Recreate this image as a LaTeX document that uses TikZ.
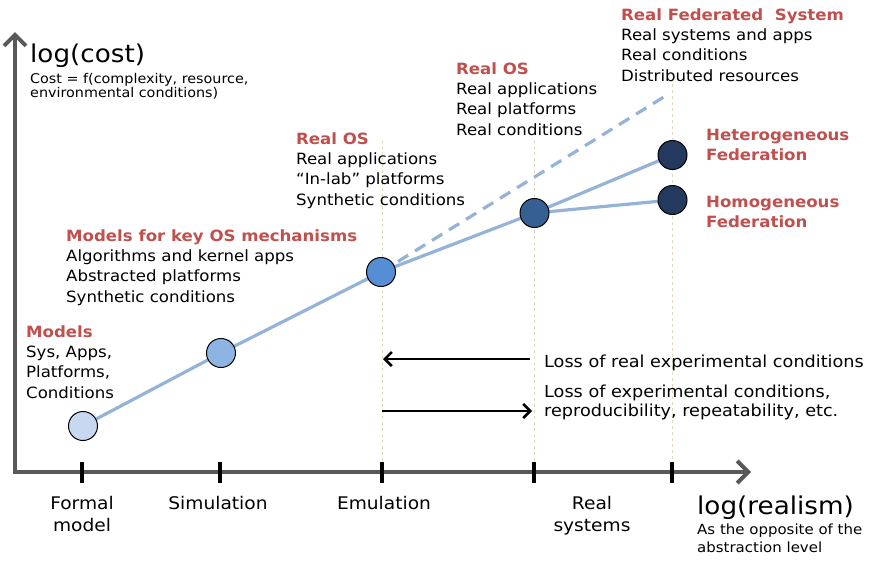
\documentclass[tikz,border=0pt]{standalone}
\usepackage{fontspec}
\setmainfont{DejaVu Sans}[FakeStretch=1.07]
\usetikzlibrary{arrows.meta}
\definecolor{headred}{HTML}{C0504D}
\definecolor{axisgray}{HTML}{595959}
\definecolor{trend}{HTML}{95B3D7}
\definecolor{guide}{HTML}{DDD9C3}
\definecolor{lvA}{HTML}{C6D9F1}
\definecolor{lvB}{HTML}{8EB4E3}
\definecolor{lvC}{HTML}{558ED5}
\definecolor{lvD}{HTML}{376092}
\definecolor{lvE}{HTML}{23395D}
\tikzset{
  axisline/.style={draw=axisgray, line width=4pt, -{Straight Barb[length=11pt,width=22pt]}},
  tickmark/.style={draw=black, line width=4.5pt},
  guideline/.style={draw=guide, line width=0.8pt, dash pattern=on 3pt off 3pt},
  trendline/.style={draw=trend, line width=3.2pt},
  trenddash/.style={trendline, dash pattern=on 12pt off 8pt},
  stage/.style={circle, draw=black, line width=1pt, minimum size=29pt, inner sep=0pt},
  lossarrow/.style={draw=black, line width=2.6pt, -{Straight Barb[length=7pt,width=14pt]}},
  block/.style={anchor=north west, align=left, inner sep=0pt, font=\fontsize{15.5}{20.3}\selectfont},
  sideblock/.style={align=left, inner sep=0pt, font=\fontsize{16.5}{19.5}\selectfont},
  axisname/.style={anchor=base west, inner sep=0pt, font=\fontsize{24.5}{28}\selectfont},
  ynotestyle/.style={anchor=north west, align=left, inner sep=0pt, font=\fontsize{13.4}{14}\selectfont},
  xnotestyle/.style={anchor=north west, align=left, inner sep=0pt, font=\fontsize{14}{18}\selectfont},
  levelname/.style={align=center, inner sep=0pt, font=\fontsize{17.4}{22}\selectfont},
}
\begin{document}
\begin{tikzpicture}[x=1pt, y=-1pt]
\useasboundingbox (0,0) rectangle (877,560);

% faint guides above the upper ticks
\coordinate (g1t) at (382,140); \coordinate (g1b) at (382,470);
\coordinate (g2t) at (534,140); \coordinate (g2b) at (534,470);
\coordinate (g3t) at (672,84);  \coordinate (g3b) at (672,470);
\draw[guideline] (g1t) -- (g1b);
\draw[guideline] (g2t) -- (g2b);
\draw[guideline] (g3t) -- (g3b);

% axes
\coordinate (origin) at (15,472);
\coordinate (ytip) at (15,32);
\coordinate (xtip) at (751,472);
\draw[axisline] (origin) -- (ytip);
\draw[axisline] ([xshift=-2pt]origin) -- (xtip);

% ticks on the realism axis
\foreach \tx/\tn in {82/formal, 220/sim, 382/emu, 534/real, 672/fed}{
  \coordinate (t\tn a) at (\tx,462);
  \coordinate (t\tn b) at (\tx,483);
  \draw[tickmark] (t\tn a) -- (t\tn b);
}

% stages
\coordinate (c1) at (83,426);
\coordinate (c2) at (221,353);
\coordinate (c3) at (381,272);
\coordinate (c4) at (534.5,213);
\coordinate (c5) at (672.5,155);
\coordinate (c6) at (672.5,200);
\coordinate (dashend) at (667,95);

\draw[trenddash] (c3) -- (dashend);
\draw[trendline] (c1) -- (c2) -- (c3) -- (c4) -- (c5);
\draw[trendline] (c4) -- (c6);

\node[stage, fill=lvA] (s1) at (c1) {};
\node[stage, fill=lvB] (s2) at (c2) {};
\node[stage, fill=lvC] (s3) at (c3) {};
\node[stage, fill=lvD] (s4) at (c4) {};
\node[stage, fill=lvE] (s5) at (c5) {};
\node[stage, fill=lvE] (s6) at (c6) {};

% loss arrows
\coordinate (la) at (530,359);
\coordinate (lb) at (383,359);
\coordinate (ra) at (382,411);
\coordinate (rb) at (532,411);
\draw[lossarrow] (la) -- (lb);
\draw[lossarrow] (ra) -- (rb);

% axis names
\node[axisname] (ylab) at (30,62) {log(cost)};
\node[ynotestyle] (ynote) at (30,72.8) {Cost = f(complexity, resource,\\environmental conditions)};
\node[axisname] (xlab) at (697,514) {log(realism)};
\node[xnotestyle] (xnote) at (697,523.4) {As the opposite of the\\abstraction level};

% level names under the axis
\node[levelname, anchor=north] (lformal) at (82,495.8) {Formal\\model};
\node[levelname, anchor=base] (lsim) at (218,509) {Simulation};
\node[levelname, anchor=base] (lemu) at (384,509) {Emulation};
\node[levelname, anchor=north] (lreal) at (592,495.8) {Real\\systems};

% descriptions
\node[block] (dmodels) at (26,325.2) {{\bfseries\color{headred}Models}\\Sys, Apps,\\Platforms,\\Conditions};
\node[block] (dkey) at (66,229.2) {{\bfseries\color{headred}Models for key OS mechanisms}\\Algorithms and kernel apps\\Abstracted platforms\\Synthetic conditions};
\node[block] (demu) at (296,132.2) {{\bfseries\color{headred}Real OS}\\Real applications\\“In-lab” platforms\\Synthetic conditions};
\node[block] (dreal) at (456,62.2) {{\bfseries\color{headred}Real OS}\\Real applications\\Real platforms\\Real conditions};
\node[block] (dfed) at (621,8.2) {{\bfseries\color{headred}Real Federated\ \ System}\\Real systems and apps\\Real conditions\\Distributed resources};
\node[block] (dhet) at (706,128.7) {{\bfseries\color{headred}Heterogeneous}\\{\bfseries\color{headred}Federation}};
\node[block] (dhom) at (706,195.7) {{\bfseries\color{headred}Homogeneous}\\{\bfseries\color{headred}Federation}};

\node[sideblock, anchor=base west] (lossA) at (544,367) {Loss of real experimental conditions};
\node[sideblock, anchor=north west] (lossB) at (544,384.5) {Loss of experimental conditions,\\reproducibility, repeatability, etc.};
\end{tikzpicture}
\end{document}
